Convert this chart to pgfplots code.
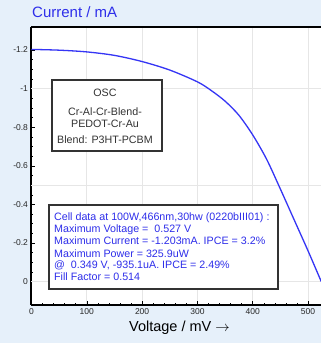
\documentclass[border=0pt]{standalone}
\usepackage{fontspec}
\setmainfont{Liberation Sans}
\usepackage{pgfplots}
\pgfplotsset{compat=1.18}
\definecolor{bgblue}{HTML}{E6F0FA}
\definecolor{curveblue}{HTML}{3535F5}
\definecolor{txtblue}{HTML}{2E2EEA}
\definecolor{gridgray}{HTML}{E6E6E6}
\definecolor{boxgray}{HTML}{333333}
\begin{document}
\begin{tikzpicture}
\path[use as bounding box, fill=bgblue] (-31.5pt,-38pt) rectangle (289.5pt,305pt);
\begin{axis}[
  at={(0,0)}, anchor=south west,
  scale only axis, width=289.5pt, height=278pt,
  xmin=0, xmax=523.5, ymin=-1.319, ymax=0.121, y dir=reverse,
  axis background/.style={fill=white},
  axis x line*=box, axis y line*=left,
  xtick pos=left, ytick pos=left,
  axis line style={line width=2pt, black},
  xtick={0,100,200,300,400,500},
  ytick={-1.2,-1,-0.8,-0.6,-0.4,-0.2,0},
  yticklabels={-1.2,-1,-0.8,-0.6,-0.4,-0.2,0},
  xticklabels={0,100,200,300,400,500},
  tick align=inside,
  major tick length=4pt, minor tick length=2pt,
  minor x tick num=4, minor y tick num=3,
  tick style={black, line width=0.5pt},
  xmajorgrids=true,
  grid style={gridgray, line width=0.8pt},
  extra y ticks={-1,-0.5,0},
  extra y tick labels={},
  extra y tick style={grid=major, major tick length=0pt},
  ticklabel style={font=\fontsize{8.5}{10}\selectfont, text=black!85},
  clip=true,
]
\addplot[curveblue, line width=1.3pt, smooth] coordinates {
(0,-1.203) (50,-1.199) (100,-1.19) (150,-1.172) (200,-1.140) (250,-1.096)
(300,-1.035) (325,-0.99) (350,-0.935) (375,-0.862) (400,-0.76) (425,-0.635)
(450,-0.48) (475,-0.32) (500,-0.16) (524,0.0)
};
\end{axis}
% title and x label
\node[anchor=west, text=txtblue, font=\fontsize{15}{18}\selectfont, inner sep=0pt] at (0.5pt,293pt) {Current / mA};
\node[font=\fontsize{14.5}{17}\selectfont, inner sep=0pt] at (148pt,-23pt) {Voltage / mV \(\rightarrow\)};
% box 1
\node[draw=boxgray, line width=1.8pt, fill=white, minimum width=110pt, minimum height=71pt, inner sep=0pt] at (75.5pt,189.5pt) {};
\begin{scope}[every node/.style={anchor=base, inner sep=0pt, font=\fontsize{10.7}{12}\selectfont, text=black!80}]
\node at (73.5pt,208pt) {OSC};
\node at (73.5pt,189pt) {Cr-Al-Cr-Blend-};
\node at (73.5pt,177pt) {PEDOT-Cr-Au};
\node at (73.5pt,161pt) {Blend: P3HT-PCBM};
\end{scope}
% box 2
\node[draw=boxgray, line width=1.8pt, fill=white, minimum width=229pt, minimum height=84pt, inner sep=0pt] at (132pt,58pt) {};
\begin{scope}[every node/.style={anchor=base west, inner sep=0pt, font=\fontsize{10.7}{12}\selectfont, text=txtblue}]
\node at (22.5pt,84pt) {Cell data at 100W,466nm,30hw (0220bIII01) :};
\node at (22.5pt,72pt) {Maximum Voltage = \ 0.527 V};
\node at (22.5pt,60pt) {Maximum Current = -1.203mA. IPCE = 3.2\%};
\node at (22.5pt,48pt) {Maximum Power = 325.9uW};
\node at (22.5pt,36pt) {@ \ 0.349 V, -935.1uA. IPCE = 2.49\%};
\node at (22.5pt,24pt) {Fill Factor = 0.514};
\end{scope}
\end{tikzpicture}
\end{document}
